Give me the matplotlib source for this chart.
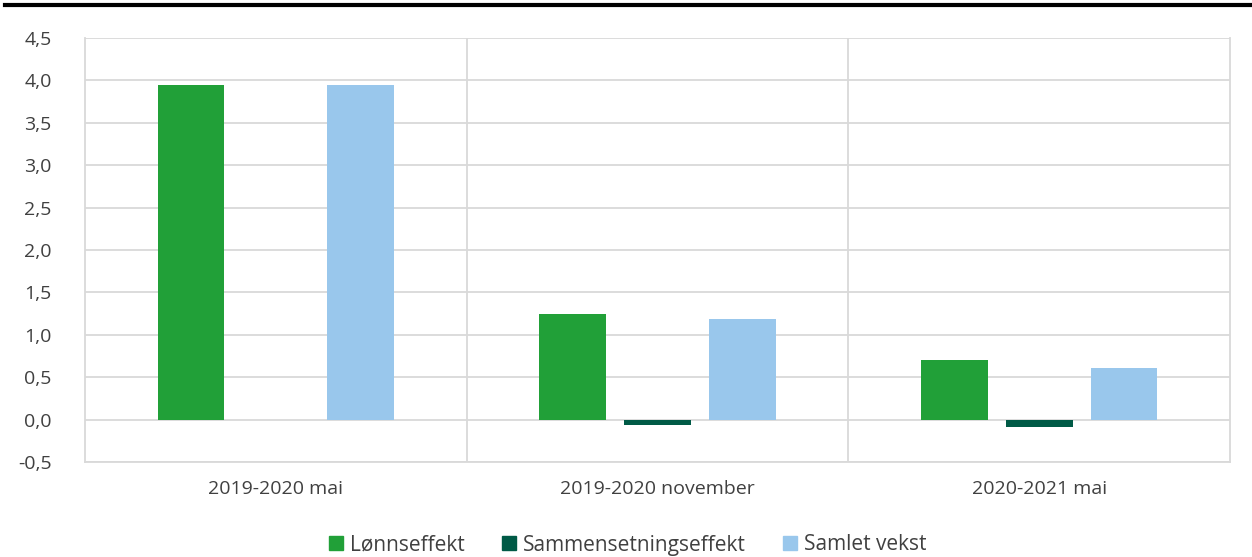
"""Lønnseffekt, sammensetningseffekt og samlet vekst per periode."""
import numpy as np
import matplotlib
matplotlib.use("Agg")
import matplotlib.pyplot as plt
from matplotlib.lines import Line2D

plt.rcParams["font.family"] = ["Open Sans", "DejaVu Sans"]

categories = ["2019-2020 mai", "2019-2020 november", "2020-2021 mai"]
lonnseffekt = [3.94, 1.25, 0.70]
sammensetning = [0.0, -0.06, -0.09]
samlet = [3.94, 1.19, 0.61]
series = [
    ("Lønnseffekt", lonnseffekt, "#21a038"),
    ("Sammensetningseffekt", sammensetning, "#005a46"),
    ("Samlet vekst", samlet, "#99c7ec"),
]
yticks = np.arange(-0.5, 4.51, 0.5)

fig = plt.figure(figsize=(12.52, 5.57), dpi=100)
ax = fig.add_axes([85 / 1252, 1 - 462 / 557, 1145 / 1252, 424 / 557])

x = np.arange(len(categories))
width = 0.175
offsets = [-0.222, 0.0, 0.222]
for (label, vals, color), off in zip(series, offsets):
    ax.bar(x + off, vals, width, color=color, label=label, zorder=3)

ax.set_xlim(-0.5, len(categories) - 0.5)
ax.set_ylim(-0.5, 4.5)
ax.set_yticks(yticks)
ax.set_yticklabels([f"{v:.1f}".replace(".", ",") for v in yticks])
ax.set_xticks(x)
ax.set_xticklabels(categories)
ax.tick_params(length=0, labelsize=14, colors="#404040")
ax.tick_params(axis="y", pad=24)
ax.tick_params(axis="x", pad=13)
ax.grid(axis="y", color="#d9d9d9", lw=1.3, zorder=0)
for b in x[:-1] + 0.5:
    ax.axvline(b, color="#d9d9d9", lw=1.3, zorder=0)
for s in ["left", "right", "bottom"]:
    ax.spines[s].set_color("#d9d9d9")
    ax.spines[s].set_linewidth(1.3)
ax.spines["top"].set_visible(False)

handles = [Line2D([], [], marker="s", ls="", markersize=10.5, color=c) for _, _, c in series]
fig.legend(handles, [s[0] for s in series], loc="center", ncol=3, frameon=False,
           fontsize=15, handlelength=1.0, handletextpad=0.2, columnspacing=1.6,
           bbox_to_anchor=(0.5, 1 - 545 / 557), labelcolor="#404040")

fig.add_artist(Line2D([5 / 1252, 1], [1 - 5 / 557] * 2, color="black", lw=3))

fig.savefig("out.png", dpi=100)
